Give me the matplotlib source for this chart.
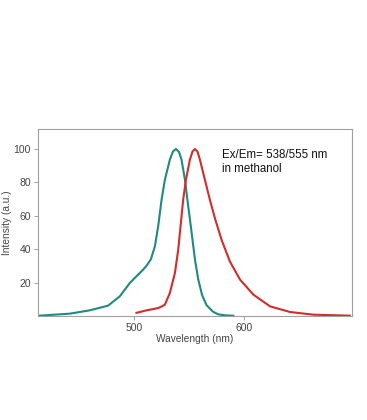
import matplotlib.pyplot as plt

plt.rcParams['font.family'] = ['Liberation Sans', 'DejaVu Sans']

# excitation (green) spectrum
ex_wl = [414.5, 441.8, 460, 476.6, 481, 487.3, 491.5, 496.4, 502.4, 508.5, 512, 515.5,
         519.1, 522.1, 525.2, 528.2, 532.7, 535.5, 538.2, 541, 543.3, 546.4, 549.4,
         552.5, 555.5, 558.5, 562, 566, 572, 576.6, 583, 590.3]
ex_int = [0.2, 1.4, 3.4, 6.2, 8.5, 11.8, 15.5, 19.8, 23.8, 27.8, 30.5, 34,
          41.7, 53.7, 69.7, 81.6, 93.6, 98.5, 100, 98.2, 93.6, 81.6, 65.6,
          49.7, 33.8, 21.8, 12.5, 6.5, 2.5, 1.0, 0.4, 0.2]

# emission (red) spectrum
em_wl = [502.4, 511.5, 518, 522.1, 525.5, 528.2, 532.7, 537.3, 540.3, 542.4, 544.8,
         547.3, 550.9, 553.3, 555.5, 557.8, 560, 564.5, 569, 573.6, 579.7, 587.3,
         596.4, 608.5, 623.6, 641.8, 663, 696]
em_int = [1.9, 3.4, 4.2, 4.8, 5.8, 6.8, 13.8, 25.8, 39.7, 53.7, 69.7,
          81.6, 93.6, 98.6, 100, 98.4, 93.6, 81.6, 69.7, 58.5, 45.5, 32.5,
          21.8, 12.8, 5.8, 2.4, 0.8, 0.2]

x_ticks = [500, 600]
y_ticks = [20, 40, 60, 80, 100]

fig = plt.figure(figsize=(3.67, 4.2), dpi=100)
ax = fig.add_axes([0.1035, 0.2476, 0.8555, 0.4454])

ax.plot(ex_wl, ex_int, color='#1f8a80', lw=1.5)
ax.plot(em_wl, em_int, color='#d42b2b', lw=1.5)

ax.set_xlim(413, 698)
ax.set_ylim(0, 112)
ax.set_xticks(x_ticks)
ax.set_yticks(y_ticks)

for s in ax.spines.values():
    s.set_color('#a0a0a0')
    s.set_linewidth(0.8)
ax.tick_params(colors='#a0a0a0', labelcolor='#444444', labelsize=7.5, length=3, width=0.7, pad=2)

ax.set_xlabel('Wavelength (nm)', fontsize=7.3, color='#444444', labelpad=1)
ax.set_ylabel('Intensity (a.u.)', fontsize=7.3, color='#444444', labelpad=1)

ax.text(0.587, 0.895, 'Ex/Em= 538/555 nm\nin methanol', transform=ax.transAxes,
        fontsize=8.3, color='#111111', va='top', ha='left', linespacing=1.3)

fig.savefig('out.png', dpi=100)
